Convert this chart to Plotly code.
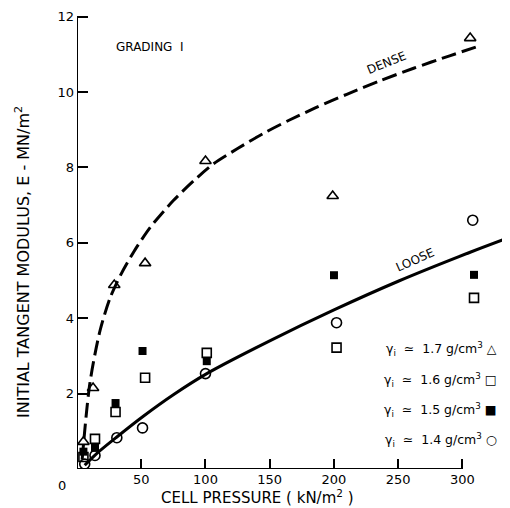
import plotly.graph_objects as go

# Data (cell pressure kN/m^2, modulus MN/m^2)
p17 = [5, 12.5, 29, 53, 100, 199, 306]
e17 = [0.72, 2.15, 4.88, 5.46, 8.17, 7.24, 11.43]

p16 = [5, 14, 30, 53, 101, 202, 309]
e16 = [0.32, 0.80, 1.51, 2.42, 3.08, 3.22, 4.54]

p15 = [5, 14, 30, 51, 101, 200, 309]
e15 = [0.46, 0.56, 1.75, 3.13, 2.86, 5.14, 5.15]

p14 = [6, 14, 31, 51, 100, 202, 308]
e14 = [0.13, 0.36, 0.83, 1.09, 2.53, 3.88, 6.60]

dense_x = [4, 10, 18, 26, 34, 44, 57, 75, 91, 106, 125, 145, 165, 185, 210, 236, 262, 290, 314]
dense_y = [0.25, 2.27, 3.68, 4.56, 5.15, 5.75, 6.41, 7.12, 7.65, 8.09, 8.5, 8.9, 9.25, 9.57, 9.94, 10.3, 10.63, 10.96, 11.23]

loose_x = [6, 15.3, 31, 51.6, 75, 101, 150, 200, 250, 306, 337]
loose_y = [0.1, 0.41, 0.85, 1.40, 1.97, 2.53, 3.4, 4.22, 4.98, 5.75, 6.15]

x_ticks = [50, 100, 150, 200, 250, 300]
y_ticks = [2, 4, 6, 8, 10, 12]

legend_labels = [
    "γ<sub>i</sub>  ≃  1.7 g/cm<sup>3</sup> △",
    "γ<sub>i</sub>  ≃  1.6 g/cm<sup>3</sup> □",
    "γ<sub>i</sub>  ≃  1.5 g/cm<sup>3</sup> ■",
    "γ<sub>i</sub>  ≃  1.4 g/cm<sup>3</sup> ○",
]

FONT = "DejaVu Sans"
# page has an 8px body margin; plot area spans page x 77..510, y 8..469
PL, PB, PW, PH = 77, 469, 433, 461
YSCALE = 37.7


def px(x, y):
    return (x - PL) / PW, (PB - y) / PH


fig = go.Figure()

fig.add_trace(go.Scatter(x=dense_x, y=dense_y, mode="lines",
                         line=dict(color="black", width=3, dash="15px,6px", shape="spline", smoothing=0.8),
                         showlegend=False))
fig.add_trace(go.Scatter(x=loose_x, y=loose_y, mode="lines",
                         line=dict(color="black", width=3, shape="spline", smoothing=0.8), showlegend=False))

mk = dict(size=10, color="black", line=dict(color="black", width=1.6))
fig.add_trace(go.Scatter(x=p17, y=e17, mode="markers", marker=dict(symbol="triangle-up-open", **mk), showlegend=False))
fig.add_trace(go.Scatter(x=p16, y=e16, mode="markers",
                         marker=dict(symbol="square-open", size=9, color="black", line=dict(color="black", width=1.6)),
                         showlegend=False))
fig.add_trace(go.Scatter(x=p15, y=e15, mode="markers", marker=dict(symbol="square", size=8, color="black"), showlegend=False))
fig.add_trace(go.Scatter(x=p14, y=e14, mode="markers", marker=dict(symbol="circle-open", **mk), showlegend=False))

# axis lines
fig.add_shape(type="line", x0=0, x1=0, y0=0, y1=12, xref="x", yref="y", line=dict(color="black", width=2))
fig.add_shape(type="line", x0=0, x1=300, y0=0, y1=0, xref="x", yref="y", line=dict(color="black", width=2))

fig.update_xaxes(range=[0, 337], tickvals=x_ticks, ticks="inside", ticklen=10, tickwidth=1.5, tickcolor="black",
                 showgrid=False, zeroline=False, showline=False, ticklabelstandoff=1,
                 tickfont=dict(family=FONT, size=13, color="black"))
fig.update_yaxes(range=[0, PH / YSCALE], tickvals=y_ticks, ticks="inside", ticklen=11, tickwidth=1.5, tickcolor="black",
                 showgrid=False, zeroline=False, showline=False, ticklabelstandoff=2,
                 tickfont=dict(family=FONT, size=13, color="black"))

ann = []


def add(x, y, text, size=12, angle=0, xanchor="center"):
    ax, ay = px(x, y)
    ann.append(dict(x=ax, y=ay, xref="paper", yref="paper", text=text, showarrow=False, textangle=angle,
                    xanchor=xanchor, yanchor="middle", font=dict(family=FONT, size=size, color="black")))


add(62, 485, "0", size=13)
add(257, 497, "CELL PRESSURE ( kN/m<sup>2</sup> )", size=15)
add(22, 262, "INITIAL TANGENT MODULUS, E - MN/m<sup>2</sup>", size=16, angle=-90)
add(114, 47, "GRADING  I", size=12, xanchor="left")
add(386, 63, "DENSE", size=12, angle=-22)
add(415, 260, "LOOSE", size=12, angle=-24)
for t, yy in zip(legend_labels, [349, 380, 410, 440]):
    add(499, yy, t, size=12.5, xanchor="right")

fig.update_layout(annotations=ann)
fig.update_layout(width=502, height=500, margin=dict(l=69, r=0, t=0, b=39),
                  plot_bgcolor="white", paper_bgcolor="white", showlegend=False,
                  font=dict(family=FONT, color="black"))

fig.write_html("out.html")
